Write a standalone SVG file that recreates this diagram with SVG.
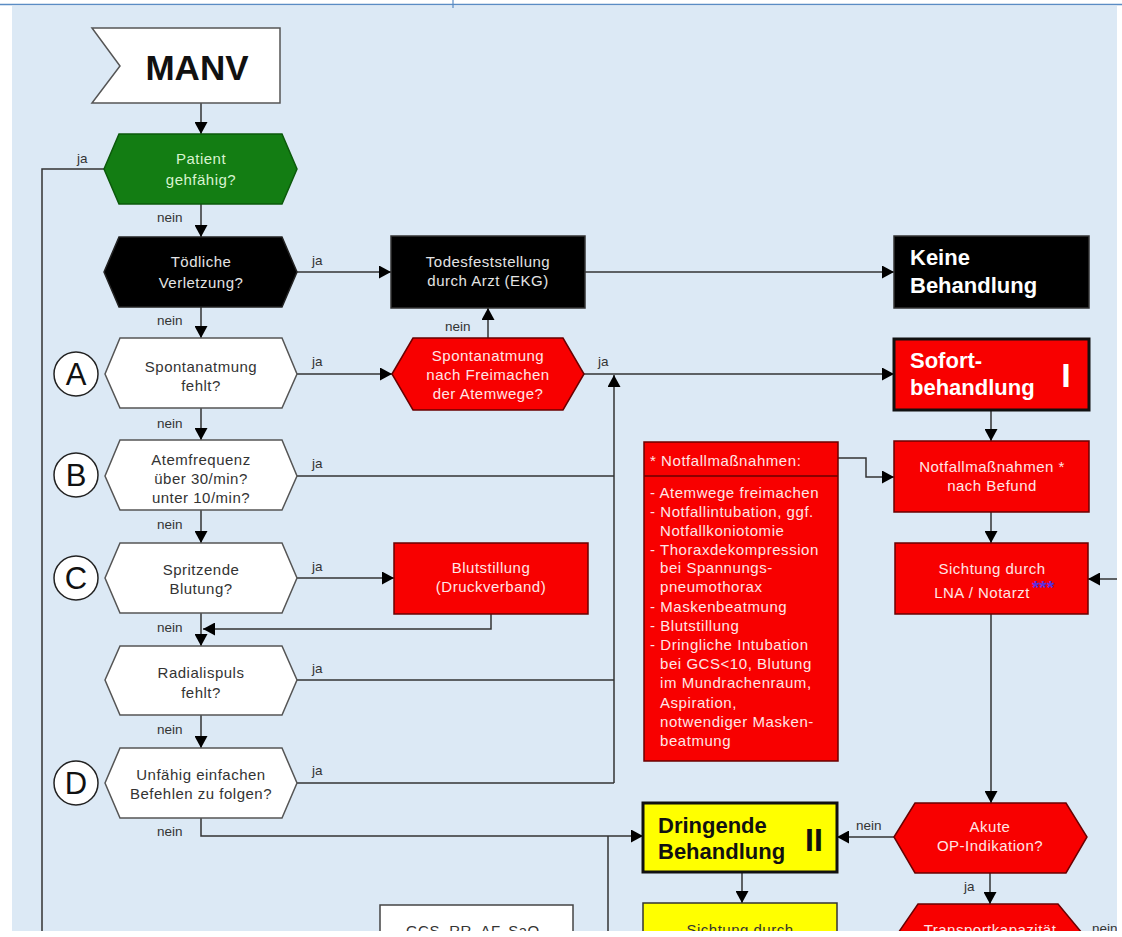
<svg xmlns="http://www.w3.org/2000/svg" width="1122" height="937" viewBox="0 0 1122 937">
<defs>
<marker id="ah" markerUnits="userSpaceOnUse" markerWidth="13" markerHeight="13" refX="12" refY="6.5" orient="auto" viewBox="0 0 13 13"><path d="M0,0 L12,6.5 L0,13 z" fill="#000"/></marker>
<clipPath id="pg"><rect x="12" y="6" width="1105" height="925"/></clipPath>
</defs>
<style>
.t{font-family:"Liberation Sans",Arial,sans-serif;font-size:15px;letter-spacing:0.5px;text-anchor:middle}
.dk{fill:#333}
.lt{fill:#ffe6e6}
.gy{fill:#e4e4e4}
.gr{fill:#d8f3cf}
.lb{font-family:"Liberation Sans",Arial,sans-serif;font-size:13.5px;fill:#333}
.big{font-family:"Liberation Sans",Arial,sans-serif;font-size:22px;font-weight:bold}
.circ{fill:#fff;stroke:#222;stroke-width:1.5}
.let{font-family:"Liberation Sans",Arial,sans-serif;font-size:31px;text-anchor:middle;fill:#111}
.w{fill:#fff;stroke:#555;stroke-width:1.5}
.red{fill:#f80000;stroke:#6a0000;stroke-width:1.5}
.conn path{fill:none;stroke:#333;stroke-width:1.5}
.ar{marker-end:url(#ah)}
.lst{font-family:"Liberation Sans",Arial,sans-serif;font-size:15px;letter-spacing:0.55px;fill:#ffe6e6}
</style>
<rect width="1122" height="937" fill="#fff"/>
<rect x="12" y="6" width="1105" height="925" fill="#dce9f5"/>
<line x1="0" y1="4.5" x2="1122" y2="4.5" stroke="#5a8cc4" stroke-width="1.5"/>
<line x1="453" y1="0" x2="453" y2="8" stroke="#5a8cc4" stroke-width="1.2"/>
<g clip-path="url(#pg)">
<g class="conn">
<path class="ar" d="M201,103 V134"/>
<path d="M105,169 H42 V935"/>
<path class="ar" d="M201,204 V237"/>
<path class="ar" d="M297,272 H391"/>
<path class="ar" d="M201,307 V338"/>
<path class="ar" d="M297,374 H392"/>
<path class="ar" d="M488,338 V308"/>
<path class="ar" d="M584,374 H894"/>
<path class="ar" d="M585,272 H894"/>
<path class="ar" d="M201,408 V440"/>
<path d="M297,476 H614"/>
<path class="ar" d="M614,783 V375"/>
<path class="ar" d="M201,510 V543"/>
<path class="ar" d="M297,578 H394"/>
<path class="ar" d="M491,614 V629 H203"/>
<path class="ar" d="M201,613 V646"/>
<path d="M297,680 H614"/>
<path class="ar" d="M201,715 V748"/>
<path d="M297,783 H614"/>
<path class="ar" d="M201,818 V836 H643"/>
<path d="M608,836 V935"/>
<path class="ar" d="M991,410 V441"/>
<path class="ar" d="M838,458 H866 V477 H894"/>
<path class="ar" d="M991,512 V543"/>
<path class="ar" d="M1117,579 H1088"/>
<path class="ar" d="M991,614 V803"/>
<path class="ar" d="M894,837 H837"/>
<path class="ar" d="M742,872 V903"/>
<path class="ar" d="M990,873 V904"/>
</g>
<g id="labels">
<text class="lb" x="77" y="163">ja</text>
<text class="lb" x="157" y="222">nein</text>
<text class="lb" x="312" y="265">ja</text>
<text class="lb" x="157" y="325">nein</text>
<text class="lb" x="312" y="366">ja</text>
<text class="lb" x="445" y="331">nein</text>
<text class="lb" x="598" y="366">ja</text>
<text class="lb" x="157" y="428">nein</text>
<text class="lb" x="312" y="468">ja</text>
<text class="lb" x="157" y="529">nein</text>
<text class="lb" x="312" y="571">ja</text>
<text class="lb" x="157" y="632">nein</text>
<text class="lb" x="312" y="673">ja</text>
<text class="lb" x="157" y="734">nein</text>
<text class="lb" x="312" y="775">ja</text>
<text class="lb" x="157" y="836">nein</text>
<text class="lb" x="856" y="830">nein</text>
<text class="lb" x="964" y="891">ja</text>
<text class="lb" x="1092" y="933">nein</text>
</g>
<g id="manv">
<polygon points="92,28 280,28 280,103 92,103 120,66" fill="#fff" stroke="#555" stroke-width="1.5"/>
<text x="197" y="80" font-family="Liberation Sans, Arial, sans-serif" font-size="35" font-weight="bold" text-anchor="middle" fill="#111">MANV</text>
</g>
<g id="gehfaehig">
<polygon points="104,169 119,134 282,134 297,169 282,204 119,204" fill="#137d13" stroke="#0b5a0b" stroke-width="1.5"/>
<text class="t gr" x="201" y="164">Patient</text>
<text class="t gr" x="201" y="185">gehfähig?</text>
</g>
<g id="toedlich">
<polygon points="104,272 119,237 282,237 297,272 282,307 119,307" fill="#000" stroke="#222" stroke-width="1.5"/>
<text class="t gy" x="201" y="267">Tödliche</text>
<text class="t gy" x="201" y="288">Verletzung?</text>
</g>
<g id="A">
<polygon class="w" points="105,374 120,338 282,338 297,374 282,408 120,408"/>
<text class="t dk" x="201" y="372">Spontanatmung</text>
<text class="t dk" x="201" y="391">fehlt?</text>
<circle class="circ" cx="76" cy="374" r="22"/>
<text class="let" x="76" y="385">A</text>
</g>
<g id="B">
<polygon class="w" points="105,476 120,440 282,440 297,476 282,510 120,510"/>
<text class="t dk" x="201" y="465">Atemfrequenz</text>
<text class="t dk" x="201" y="484">über 30/min?</text>
<text class="t dk" x="201" y="503">unter 10/min?</text>
<circle class="circ" cx="76" cy="475" r="22"/>
<text class="let" x="76" y="486">B</text>
</g>
<g id="C">
<polygon class="w" points="105,578 120,543 282,543 297,578 282,613 120,613"/>
<text class="t dk" x="201" y="575">Spritzende</text>
<text class="t dk" x="201" y="594">Blutung?</text>
<circle class="circ" cx="76" cy="578" r="22"/>
<text class="let" x="76" y="589">C</text>
</g>
<g id="radialis">
<polygon class="w" points="105,680 120,646 282,646 297,680 282,715 120,715"/>
<text class="t dk" x="201" y="678">Radialispuls</text>
<text class="t dk" x="201" y="698">fehlt?</text>
</g>
<g id="D">
<polygon class="w" points="105,783 120,748 282,748 297,783 282,818 120,818"/>
<text class="t dk" x="201" y="780">Unfähig einfachen</text>
<text class="t dk" x="201" y="799">Befehlen zu folgen?</text>
<circle class="circ" cx="76" cy="783" r="22"/>
<text class="let" x="76" y="794">D</text>
</g>
<g id="todesfeststellung">
<rect x="391" y="236" width="194" height="72" fill="#000" stroke="#333" stroke-width="1.5"/>
<text class="t gy" x="488" y="267">Todesfeststellung</text>
<text class="t gy" x="488" y="286">durch Arzt (EKG)</text>
</g>
<g id="freimachen">
<polygon class="red" points="392,374 413,338 563,338 584,374 563,410 413,410"/>
<text class="t lt" x="488" y="361">Spontanatmung</text>
<text class="t lt" x="488" y="380">nach Freimachen</text>
<text class="t lt" x="488" y="399">der Atemwege?</text>
</g>
<g id="keine">
<rect x="894" y="236" width="195" height="72" fill="#000" stroke="#333" stroke-width="1.5"/>
<text class="big" x="910" y="265" fill="#fff">Keine</text>
<text class="big" x="910" y="293" fill="#fff">Behandlung</text>
</g>
<g id="sofort">
<rect x="894" y="339" width="195" height="71" fill="#f80000" stroke="#111" stroke-width="3"/>
<text class="big" x="910" y="368" fill="#fff">Sofort-</text>
<text class="big" x="910" y="395" fill="#fff">behandlung</text>
<text x="1066" y="387" font-family="Liberation Sans, Arial, sans-serif" font-size="34" font-weight="bold" text-anchor="middle" fill="#fff">I</text>
</g>
<g id="notfall">
<rect class="red" x="894" y="441" width="195" height="71"/>
<text class="t lt" x="992" y="472">Notfallmaßnahmen *</text>
<text class="t lt" x="992" y="491">nach Befund</text>
</g>
<g id="notfallliste">
<rect class="red" x="644" y="442" width="194" height="319"/>
<line x1="644" y1="476" x2="838" y2="476" stroke="#6a0000" stroke-width="1.5"/>
<text class="lst" x="650" y="466">* Notfallmaßnahmen:</text>
<text class="lst" x="650" y="498">- Atemwege freimachen</text>
<text class="lst" x="650" y="517">- Notfallintubation, ggf.</text>
<text class="lst" x="660" y="536">Notfallkoniotomie</text>
<text class="lst" x="650" y="555">- Thoraxdekompression</text>
<text class="lst" x="660" y="573">bei Spannungs-</text>
<text class="lst" x="660" y="592">pneumothorax</text>
<text class="lst" x="650" y="612">- Maskenbeatmung</text>
<text class="lst" x="650" y="631">- Blutstillung</text>
<text class="lst" x="650" y="650">- Dringliche Intubation</text>
<text class="lst" x="660" y="669">bei GCS&lt;10, Blutung</text>
<text class="lst" x="660" y="688">im Mundrachenraum,</text>
<text class="lst" x="660" y="708">Aspiration,</text>
<text class="lst" x="660" y="727">notwendiger Masken-</text>
<text class="lst" x="660" y="746">beatmung</text>
</g>
<g id="blutstillung">
<rect class="red" x="394" y="543" width="194" height="71"/>
<text class="t lt" x="491" y="573">Blutstillung</text>
<text class="t lt" x="491" y="592">(Druckverband)</text>
</g>
<g id="sichtung1">
<rect class="red" x="895" y="543" width="193" height="71"/>
<text class="t lt" x="992" y="574">Sichtung durch</text>
<text class="t lt" x="982" y="598">LNA / Notarzt</text>
<text x="1043" y="594" font-family="Liberation Sans, Arial, sans-serif" font-size="19" font-weight="bold" text-anchor="middle" fill="#5b2fe0">***</text>
</g>
<g id="akute">
<polygon class="red" points="894,837 915,803 1066,803 1087,837 1066,873 915,873"/>
<text class="t lt" x="990" y="832">Akute</text>
<text class="t lt" x="990" y="851">OP-Indikation?</text>
</g>
<g id="dringend">
<rect x="643" y="803" width="194" height="69" fill="#ffff00" stroke="#111" stroke-width="3"/>
<text class="big" x="658" y="833" fill="#111">Dringende</text>
<text class="big" x="658" y="859" fill="#111">Behandlung</text>
<text x="814" y="851" font-family="Liberation Sans, Arial, sans-serif" font-size="32" font-weight="bold" text-anchor="middle" fill="#111">II</text>
</g>
<g id="sichtung2">
<rect x="643" y="903" width="194" height="70" fill="#ffff00" stroke="#333" stroke-width="1.5"/>
<text class="t dk" x="740" y="935">Sichtung durch</text>
</g>
<g id="transport">
<polygon class="red" points="894,939 918,904 1058,904 1087,939 1058,974 918,974"/>
<text class="t lt" x="990" y="935">Transportkapazität</text>
</g>
<g id="gcs">
<rect x="380" y="905" width="193" height="70" fill="#fff" stroke="#444" stroke-width="1.5"/>
<text class="t dk" x="476" y="936">GCS, RR, AF, SaO₂</text>
</g>
</g>
</svg>
